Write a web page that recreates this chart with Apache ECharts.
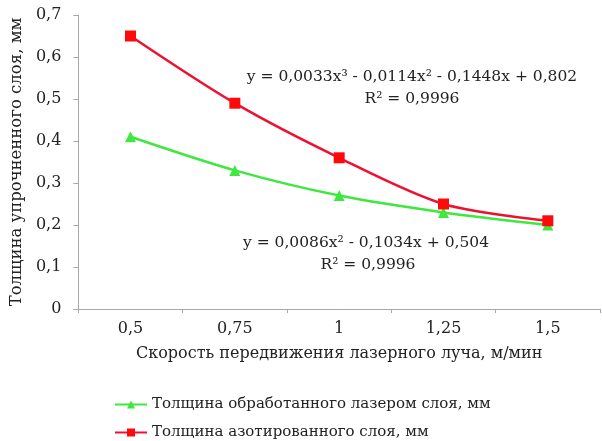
<!DOCTYPE html>
<html>
<head>
<meta charset="utf-8">
<script src="https://cdn.jsdelivr.net/npm/echarts@6/dist/echarts.min.js"></script>
<style>
html,body{margin:0;padding:0;background:#fff;}
#chart{width:602px;height:441px;}
</style>
</head>
<body>
<div id="chart"></div>
<script>
const categories = ['0,5', '0,75', '1', '1,25', '1,5'];
const laserLayer = [0.41, 0.33, 0.27, 0.23, 0.20];
const nitridedLayer = [0.65, 0.49, 0.36, 0.25, 0.21];
const seriesNames = ['Толщина обработанного лазером слоя, мм', 'Толщина азотированного слоя, мм'];
const yTicks = [0, 0.1, 0.2, 0.3, 0.4, 0.5, 0.6, 0.7];
const eqRed = ['y = 0,0033x³ - 0,0114x² - 0,1448x + 0,802', 'R² = 0,9996'];
const eqGreen = ['y = 0,0086x² - 0,1034x + 0,504', 'R² = 0,9996'];

const FONT = 'DejaVu Serif';
const TXT = '#222';
const eqFont = '15.5px "DejaVu Serif"';
const legendBase = {
  orient: 'vertical',
  left: 114,
  itemWidth: 32,
  itemHeight: 10,
  itemGap: 0,
  padding: 0,
  textStyle: { fontFamily: FONT, fontSize: 15, color: TXT }
};
const chart = echarts.init(document.getElementById('chart'));
chart.setOption({
  animation: false,
  textStyle: { fontFamily: FONT },
  grid: { left: 76, right: 2, top: 15, bottom: 132, containLabel: false },
  xAxis: {
    type: 'category',
    data: categories,
    boundaryGap: true,
    name: 'Скорость передвижения лазерного луча, м/мин',
    nameLocation: 'middle',
    nameGap: 37,
    nameTextStyle: { fontFamily: FONT, fontSize: 16, color: TXT },
    axisLine: { lineStyle: { color: '#a8a8a8', width: 1 } },
    axisTick: { show: true, length: 4, lineStyle: { color: '#a8a8a8' } },
    axisLabel: { fontFamily: FONT, fontSize: 16, color: TXT, margin: 12 },
    splitLine: { show: false }
  },
  yAxis: {
    type: 'value',
    min: 0, max: 0.7, interval: 0.1,
    name: 'Толщина упрочненного слоя, мм',
    nameLocation: 'middle',
    nameGap: 46,
    nameRotate: 90,
    nameTextStyle: { fontFamily: FONT, fontSize: 16.5, color: TXT },
    axisLine: { show: true, lineStyle: { color: '#a8a8a8', width: 1 } },
    axisTick: { show: true, length: 5, lineStyle: { color: '#a8a8a8' } },
    axisLabel: {
      fontFamily: FONT, fontSize: 16, color: TXT, margin: 17,
      formatter: function (v) {
        const t = yTicks.find(x => Math.abs(x - v) < 1e-9);
        return (t === undefined ? v : t).toString().replace('.', ',');
      }
    },
    splitLine: { show: false }
  },
  legend: [
    Object.assign({}, legendBase, { top: 397, data: [seriesNames[0]] }),
    Object.assign({}, legendBase, { top: 425, data: [seriesNames[1]] })
  ],
  graphic: [
    { type: 'text', style: { text: eqRed[0], x: 412, y: 77, textAlign: 'center', textVerticalAlign: 'middle', font: eqFont, fill: TXT } },
    { type: 'text', style: { text: eqRed[1], x: 412, y: 99, textAlign: 'center', textVerticalAlign: 'middle', font: eqFont, fill: TXT } },
    { type: 'text', style: { text: eqGreen[0], x: 366, y: 243, textAlign: 'center', textVerticalAlign: 'middle', font: eqFont, fill: TXT } },
    { type: 'text', style: { text: eqGreen[1], x: 368, y: 265, textAlign: 'center', textVerticalAlign: 'middle', font: eqFont, fill: TXT } }
  ],
  series: [
    {
      name: seriesNames[0],
      type: 'line',
      data: laserLayer,
      smooth: 0.3,
      symbol: 'triangle',
      symbolSize: 11,
      lineStyle: { color: '#3ee83e', width: 2.5 },
      itemStyle: { color: '#3ee83e' },
      z: 2
    },
    {
      name: seriesNames[1],
      type: 'line',
      data: nitridedLayer,
      smooth: 0.3,
      symbol: 'rect',
      symbolSize: 11,
      lineStyle: { color: '#ee1133', width: 2.5 },
      itemStyle: { color: '#ff0a0a' },
      z: 3
    }
  ]
});
</script>
</body>
</html>
